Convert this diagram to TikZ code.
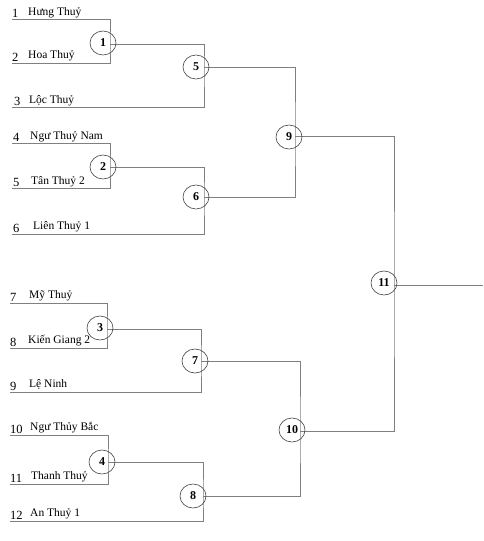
\documentclass[tikz,border=0pt]{standalone}
\usepackage{fontspec}
\setmainfont{Liberation Serif}
\usetikzlibrary{shapes.geometric}

\definecolor{linegray}{HTML}{808080}
\definecolor{ringgray}{HTML}{404040}

\begin{document}
\begin{tikzpicture}[
    x=1pt, y=-1pt,
    bline/.style={draw=linegray, line width=1pt},
    num/.style={anchor=base west, inner sep=0pt, font=\fontsize{12.5}{14}\selectfont},
    team/.style={anchor=base west, inner sep=0pt, font=\fontsize{11.5}{13}\selectfont},
    match/.style={draw=ringgray, ellipse, line width=0.6pt, inner sep=0pt, minimum width=26pt, minimum height=24pt, font=\fontsize{12}{14}\selectfont\bfseries}
]
    \useasboundingbox (0,0) rectangle (483,541);

    % Teams
    \node[num] (n1) at (12,17) {1};   \node[team] (t1) at (28,15) {Hưng Thuỷ};
    \node[num] (n2) at (12,61) {2};   \node[team] (t2) at (28,58) {Hoa Thuỷ};
    \node[num] (n3) at (14,105) {3};  \node[team] (t3) at (29,103) {Lộc Thuỷ};
    \node[num] (n4) at (13,141) {4};  \node[team] (t4) at (30,139) {Ngư Thuỷ Nam};
    \node[num] (n5) at (13,186) {5};  \node[team] (t5) at (31,184) {Tân Thuỷ 2};
    \node[num] (n6) at (13,232) {6};  \node[team] (t6) at (33,229) {Liên Thuỷ 1};
    \node[num] (n7) at (10,301) {7};  \node[team] (t7) at (29,298) {Mỹ Thuỷ};
    \node[num] (n8) at (10,346) {8};  \node[team] (t8) at (28,343) {Kiến Giang 2};
    \node[num] (n9) at (10,390) {9};  \node[team] (t9) at (29,387) {Lệ Ninh};
    \node[num] (n10) at (10,433) {10}; \node[team] (t10) at (30,430) {Ngư Thủy Bắc};
    \node[num] (n11) at (10,482) {11}; \node[team] (t11) at (31,479) {Thanh Thuỷ};
    \node[num] (n12) at (10,519) {12}; \node[team] (t12) at (30,516) {An Thuỷ 1};

    % Line ends
    \coordinate (a1) at (12,19);
    \coordinate (a2) at (12,63);
    \coordinate (a3) at (12,107);
    \coordinate (a4) at (12,143);
    \coordinate (a5) at (12,188);
    \coordinate (a6) at (12,234);
    \coordinate (a7) at (10,303);
    \coordinate (a8) at (10,348);
    \coordinate (a9) at (10,392);
    \coordinate (a10) at (10,435);
    \coordinate (a11) at (10,484);
    \coordinate (a12) at (10,521);

    % Junctions
    \coordinate (j1) at (110,44);
    \coordinate (j2) at (110,167);
    \coordinate (j3) at (107,329);
    \coordinate (j4) at (108,462);
    \coordinate (j5) at (204,67);
    \coordinate (j6) at (204,197);
    \coordinate (j7) at (201,361);
    \coordinate (j8) at (203,496);
    \coordinate (j9) at (295,136);
    \coordinate (j10) at (300,431);
    \coordinate (j11) at (394,285);
    \coordinate (fin) at (483,285);

    % Bracket lines
    \draw[bline] (a1) -| (j1) |- (a2);
    \draw[bline] (j1) -| (j5) |- (a3);
    \draw[bline] (a4) -| (j2) |- (a5);
    \draw[bline] (j2) -| (j6) |- (a6);
    \draw[bline] (j5) -| (j9) |- (j6);

    \draw[bline] (a7) -| (j3) |- (a8);
    \draw[bline] (j3) -| (j7) |- (a9);
    \draw[bline] (a10) -| (j4) |- (a11);
    \draw[bline] (j4) -| (j8) |- (a12);
    \draw[bline] (j7) -| (j10) |- (j8);

    \draw[bline] (j9) -| (j11) |- (j10);
    \draw[bline] (j11) -- (fin);

    % Matches
    \node[match] (m1) at (103,43) {1};
    \node[match] (m2) at (103,167) {2};
    \node[match] (m3) at (100,328) {3};
    \node[match] (m4) at (102,462) {4};
    \node[match] (m5) at (196,67) {5};
    \node[match] (m6) at (196,197) {6};
    \node[match] (m7) at (195,361) {7};
    \node[match] (m8) at (193,496) {8};
    \node[match] (m9) at (289,137) {9};
    \node[match] (m10) at (292,430) {10};
    \node[match] (m11) at (384,283) {11};

\end{tikzpicture}
\end{document}
